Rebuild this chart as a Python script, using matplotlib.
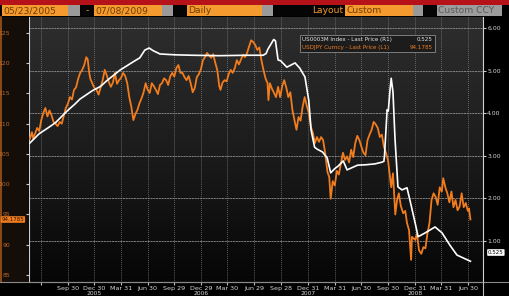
import matplotlib
matplotlib.use("Agg")
import matplotlib.pyplot as plt
from matplotlib.patches import Rectangle
from matplotlib.lines import Line2D
from matplotlib.colors import LinearSegmentedColormap
from matplotlib.transforms import blended_transform_factory
import numpy as np
import pandas as pd

# --- data ---
# USDJPY Curncy, left axis (orange)
jpy_dates = [
    "2005-05-23", "2005-05-30", "2005-06-03", "2005-06-10", "2005-06-17", "2005-06-24",
    "2005-07-01", "2005-07-08", "2005-07-15", "2005-07-22", "2005-07-29", "2005-08-05",
    "2005-08-12", "2005-08-19", "2005-08-26", "2005-09-02", "2005-09-09", "2005-09-16",
    "2005-09-23", "2005-09-30", "2005-10-07", "2005-10-14", "2005-10-21", "2005-10-28",
    "2005-11-04", "2005-11-11", "2005-11-18", "2005-11-25", "2005-12-02", "2005-12-07",
    "2005-12-12", "2005-12-16", "2005-12-23", "2005-12-30", "2006-01-06", "2006-01-13",
    "2006-01-20", "2006-01-27", "2006-02-03", "2006-02-10", "2006-02-17", "2006-02-24",
    "2006-03-03", "2006-03-10", "2006-03-17", "2006-03-24", "2006-03-31", "2006-04-07",
    "2006-04-14", "2006-04-21", "2006-04-28", "2006-05-05", "2006-05-12", "2006-05-19",
    "2006-05-26", "2006-06-02", "2006-06-09", "2006-06-16", "2006-06-23", "2006-06-30",
    "2006-07-07", "2006-07-14", "2006-07-21", "2006-07-28", "2006-08-04", "2006-08-11",
    "2006-08-18", "2006-08-25", "2006-09-01", "2006-09-08", "2006-09-15", "2006-09-22",
    "2006-09-29", "2006-10-06", "2006-10-13", "2006-10-20", "2006-10-27", "2006-11-03",
    "2006-11-10", "2006-11-17", "2006-11-24", "2006-12-01", "2006-12-08", "2006-12-15",
    "2006-12-22", "2006-12-29", "2007-01-05", "2007-01-12", "2007-01-19", "2007-01-26",
    "2007-02-02", "2007-02-09", "2007-02-16", "2007-02-23", "2007-03-02", "2007-03-06",
    "2007-03-13", "2007-03-20", "2007-03-27", "2007-04-03", "2007-04-10", "2007-04-17",
    "2007-04-24", "2007-05-01", "2007-05-08", "2007-05-15", "2007-05-22", "2007-05-29",
    "2007-06-05", "2007-06-12", "2007-06-19", "2007-06-26", "2007-07-03", "2007-07-10",
    "2007-07-17", "2007-07-24", "2007-07-31", "2007-08-07", "2007-08-14", "2007-08-17",
    "2007-08-22", "2007-08-29", "2007-09-05", "2007-09-12", "2007-09-19", "2007-09-26",
    "2007-10-03", "2007-10-10", "2007-10-17", "2007-10-24", "2007-10-31", "2007-11-07",
    "2007-11-14", "2007-11-21", "2007-11-28", "2007-12-05", "2007-12-12", "2007-12-19",
    "2007-12-26", "2008-01-02", "2008-01-09", "2008-01-16", "2008-01-23", "2008-01-30",
    "2008-02-06", "2008-02-13", "2008-02-20", "2008-02-27", "2008-03-06", "2008-03-12",
    "2008-03-17", "2008-03-24", "2008-03-31", "2008-04-07", "2008-04-14", "2008-04-21",
    "2008-04-28", "2008-05-05", "2008-05-12", "2008-05-19", "2008-05-26", "2008-06-02",
    "2008-06-09", "2008-06-16", "2008-06-23", "2008-06-30", "2008-07-07", "2008-07-14",
    "2008-07-21", "2008-07-28", "2008-08-04", "2008-08-11", "2008-08-18", "2008-08-25",
    "2008-09-01", "2008-09-08", "2008-09-15", "2008-09-22", "2008-09-29", "2008-10-06",
    "2008-10-10", "2008-10-16", "2008-10-24", "2008-10-30", "2008-11-05", "2008-11-12",
    "2008-11-20", "2008-11-27", "2008-12-03", "2008-12-10", "2008-12-17", "2008-12-20",
    "2008-12-31", "2009-01-06", "2009-01-13", "2009-01-21", "2009-01-28", "2009-02-04",
    "2009-02-11", "2009-02-18", "2009-02-25", "2009-03-04", "2009-03-11", "2009-03-18",
    "2009-03-25", "2009-04-01", "2009-04-06", "2009-04-13", "2009-04-20", "2009-04-27",
    "2009-05-04", "2009-05-11", "2009-05-18", "2009-05-25", "2009-06-01", "2009-06-08",
    "2009-06-15", "2009-06-22", "2009-06-29", "2009-07-03", "2009-07-08",
]
jpy_vals = [
    107.5, 108.6, 107.6, 108.4, 109.3, 108.8,
    110.6, 111.8, 112.6, 111.2, 112.2, 111.4,
    110.3, 110.0, 109.6, 110.3, 110.0, 111.3,
    112.6, 113.3, 114.4, 114.0, 115.6, 116.0,
    117.4, 118.4, 118.9, 119.7, 121.0, 120.6,
    118.4, 117.4, 116.6, 115.9, 115.6, 114.8,
    116.0, 117.2, 118.9, 118.0, 116.9, 116.1,
    116.8, 118.4, 116.6, 117.2, 117.6, 118.4,
    117.9, 116.7, 114.4, 112.8, 110.6, 111.6,
    112.3, 113.4, 114.2, 115.2, 116.7, 115.6,
    115.1, 116.7, 116.2, 115.6, 114.9, 116.4,
    116.7, 117.5, 117.2, 116.4, 117.8, 118.4,
    117.8, 119.2, 119.7, 118.4, 118.4, 117.7,
    117.2, 117.9, 116.7, 115.2, 115.9, 117.7,
    118.2, 119.0, 120.5, 121.0, 121.7, 121.3,
    120.9, 121.5, 120.1, 118.9, 116.2, 115.6,
    116.8, 117.2, 117.0, 118.2, 118.9, 118.4,
    119.2, 120.5, 119.8, 120.6, 121.4, 121.0,
    121.7, 122.8, 123.8, 123.5, 123.0, 122.2,
    122.6, 120.5, 118.9, 117.5, 116.7, 113.9,
    116.7, 115.8, 115.1, 114.4, 116.1, 114.4,
    116.2, 117.2, 116.0, 114.4, 115.2, 112.3,
    110.6, 109.0, 111.1, 110.5, 112.8, 114.4,
    113.0, 111.8, 109.5, 108.5, 106.8, 107.8,
    107.0, 107.8, 107.3, 105.2, 102.0, 101.2,
    97.6, 100.5, 99.8, 102.2, 101.6, 103.5,
    105.2, 104.0, 104.6, 103.6, 105.7, 104.5,
    106.8, 108.0, 107.3, 106.2, 105.2, 104.8,
    107.3, 108.2, 109.0, 110.3, 109.9, 109.3,
    107.8, 108.2, 106.2, 105.2, 104.0, 101.2,
    99.5, 101.8, 95.0, 97.4, 98.5, 96.4,
    95.2, 95.6, 93.6, 92.4, 87.5, 91.3,
    90.8, 91.8, 89.1, 88.5, 89.6, 89.4,
    91.9, 93.6, 97.4, 98.5, 97.9, 96.6,
    99.5, 98.8, 101.0, 99.5, 98.5, 97.0,
    98.8, 96.2, 97.4, 95.7, 96.3, 98.5,
    96.2, 96.9, 95.6, 96.0, 94.1785,
]

# US0003M Index, right axis (white)
libor_dates = [
    "2005-05-23", "2005-06-24", "2005-07-25", "2005-08-19", "2005-09-27", "2005-10-25",
    "2005-11-10", "2005-12-23", "2006-01-20", "2006-02-08", "2006-03-07", "2006-03-27",
    "2006-05-10", "2006-06-03", "2006-06-20", "2006-07-05", "2006-07-18", "2006-08-11",
    "2006-10-02", "2006-12-01", "2007-03-01", "2007-06-01", "2007-07-30", "2007-08-09",
    "2007-08-15", "2007-08-22", "2007-09-04", "2007-09-10", "2007-09-19", "2007-09-28",
    "2007-10-19", "2007-11-16", "2007-12-02", "2007-12-20", "2008-01-02", "2008-01-10",
    "2008-01-22", "2008-02-01", "2008-02-18", "2008-03-05", "2008-03-17", "2008-03-31",
    "2008-04-10", "2008-04-29", "2008-05-12", "2008-06-17", "2008-07-15", "2008-08-15",
    "2008-09-08", "2008-09-15", "2008-09-17", "2008-09-26", "2008-09-30", "2008-10-06",
    "2008-10-10", "2008-10-16", "2008-10-23", "2008-11-02", "2008-11-16", "2008-12-03",
    "2008-12-13", "2008-12-31", "2009-01-10", "2009-02-03", "2009-03-09", "2009-04-02",
    "2009-04-29", "2009-05-23", "2009-06-30", "2009-07-08",
]
libor_vals = [
    3.30, 3.52, 3.66, 3.78, 4.05, 4.22,
    4.33, 4.53, 4.63, 4.75, 4.90, 5.01,
    5.20, 5.30, 5.48, 5.53, 5.47, 5.39,
    5.37, 5.36, 5.35, 5.36, 5.36, 5.40,
    5.50, 5.58, 5.73, 5.70, 5.25, 5.23,
    5.08, 5.18, 5.06, 4.85, 4.30, 3.60,
    3.20, 3.15, 3.09, 2.95, 2.60, 2.70,
    2.75, 2.88, 2.67, 2.78, 2.79, 2.81,
    2.85, 2.87, 3.00, 4.08, 4.05, 4.55,
    4.82, 4.50, 3.40, 2.27, 2.20, 2.25,
    1.96, 1.42, 1.10, 1.19, 1.33, 1.19,
    0.90, 0.67, 0.55, 0.525,
]

tick_dates = [
    "2005-06-30", "2005-09-30", "2005-12-30", "2006-03-31", "2006-06-30", "2006-09-29",
    "2006-12-29", "2007-03-30", "2007-06-29", "2007-09-28", "2007-12-31", "2008-03-31",
    "2008-06-30", "2008-09-30", "2008-12-31", "2009-03-31", "2009-06-30",
]
tick_labels = [
    "", "Sep 30", "Dec 30", "Mar 31", "Jun 30", "Sep 29",
    "Dec 29", "Mar 30", "Jun 29", "Sep 28", "Dec 31", "Mar 31",
    "Jun 30", "Sep 30", "Dec 31", "Mar 31", "Jun 30",
]
year_dates = ["2005-12-30", "2006-12-29", "2007-12-31", "2008-12-31"]
year_labels = ["2005", "2006", "2007", "2008"]

left_ticks = [85, 90, 95, 100, 105, 110, 115, 120, 125]
right_ticks = [1, 2, 3, 4, 5, 6]

ORANGE = "#f07c1e"
AMBER = "#f59a2e"

# --- figure, pixel helpers ---
W, H = 510, 296
fig = plt.figure(figsize=(W / 100, H / 100), dpi=100, facecolor="black")


def fx(x):
    return x / W


def fy(y):
    return 1 - y / H


def frect(x0, y0, x1, y1, color, z=1, **kw):
    fig.add_artist(Rectangle((fx(x0), fy(y1)), fx(x1) - fx(x0), fy(y0) - fy(y1),
                             transform=fig.transFigure, facecolor=color, zorder=z,
                             edgecolor=kw.pop("edgecolor", "none"), **kw))


def fline(xs, ys, color, lw=0.8, z=1):
    fig.add_artist(Line2D([fx(v) for v in xs], [fy(v) for v in ys],
                          transform=fig.transFigure, color=color, lw=lw, zorder=z))


# left axis strip (behind the axes so tick labels stay visible) and header
frect(0, 17, 28, 282, "#140d08", z=-2)
fline([0.6, 0.6], [17, 282], "#a0561c", lw=1.2, z=-1)
frect(0, 0, 510, 5, "#b5121a")

header = [
    (2, 68, AMBER, "05/23/2005", "#6e3d00", "left"),
    (68, 80, "#9a9a9a", "", "", "left"),
    (80, 94, "#050505", "-", AMBER, "center"),
    (94, 162, AMBER, "07/08/2009", "#6e3d00", "left"),
    (162, 173, "#9a9a9a", "", "", "left"),
    (173, 187, "#050505", "", "", "left"),
    (187, 262, AMBER, "Daily", "#6e3d00", "left"),
    (262, 273, "#9a9a9a", "", "", "left"),
    (273, 345, "#050505", "Layout", AMBER, "right"),
    (345, 413, AMBER, "Custom", "#6e3d00", "left"),
    (413, 423, "#9a9a9a", "", "", "left"),
    (423, 437, "#050505", "", "", "left"),
    (437, 502, "#9c9c9c", "Custom CCY", "#5a5a5a", "left"),
]
for x0, x1, fc, txt, tc, ha in header:
    frect(x0, 5, x1, 16, fc)
    if txt:
        tx = {"left": x0 + 1.5, "center": (x0 + x1) / 2, "right": x1 - 2}[ha]
        fig.text(fx(tx), fy(10.8), txt, color=tc, fontsize=6.6, ha=ha, va="center",
                 family="DejaVu Sans")

# plot area with dark vertical gradient
rect = [fx(29), fy(282), fx(483) - fx(29), fy(17) - fy(282)]
bg = fig.add_axes(rect)
grad = LinearSegmentedColormap.from_list("bbg", ["#2e2e2e", "#1c1c1c", "#060606"])
bg.imshow(np.linspace(0, 1, 256)[:, None], aspect="auto", cmap=grad, extent=[0, 1, 0, 1])
bg.axis("off")

ax = fig.add_axes(rect)
ax.set_facecolor("none")
ax2 = ax.twinx()

ax.plot(pd.to_datetime(jpy_dates), jpy_vals, color=ORANGE, lw=1.3, zorder=3)
ax2.plot(pd.to_datetime(libor_dates), libor_vals, color="white", lw=1.2, zorder=3)

ax.set_xlim(pd.Timestamp("2005-05-20"), pd.Timestamp("2009-08-20"))
ax.set_ylim(83.84, 127.64)
ax2.set_ylim(0.038, 6.258)

# grid: dotted verticals at quarter ticks, horizontals at right-axis levels
ax.set_xticks(pd.to_datetime(tick_dates))
ax.set_xticklabels(tick_labels)
ax.grid(axis="x", color="#8c8c8c", lw=0.55, ls=(0, (1, 1.6)), zorder=1)
hl = blended_transform_factory(ax.transAxes, ax2.transData)
for r in right_ticks:
    ax.plot([0, 1], [r, r], transform=hl, color="#8e8e8e", lw=0.6,
            ls=(0, (2.5, 0.8)), zorder=1)

ax.tick_params(axis="x", length=2, pad=1.2, color="#bbbbbb", labelsize=4.6,
               labelcolor="#d6d6d6")
ax.set_yticks(left_ticks)
ax.tick_params(axis="y", length=2, pad=11.5, color="#cccccc", labelsize=4.4,
               labelcolor="#b8692b")
ax2.set_yticks(right_ticks)
ax2.set_yticklabels([f"{v:.2f}" for v in right_ticks])
ax2.tick_params(axis="y", length=2, pad=1.0, color="#cccccc", labelsize=4.4,
                labelcolor="#d6d6d6")

for s in ["top", "right"]:
    ax.spines[s].set_visible(False)
for s in ["top", "left", "bottom"]:
    ax2.spines[s].set_visible(False)
ax.spines["left"].set_color("#d0d0d0")
ax.spines["bottom"].set_color("#9a9a9a")
ax2.spines["right"].set_color("#d0d0d0")
for s in [ax.spines["left"], ax.spines["bottom"], ax2.spines["right"]]:
    s.set_linewidth(0.8)

# axis lines running past the plot
fline([0, 510], [282.3, 282.3], "#8a8a8a", lw=0.8)
fline([483.3, 483.3], [282, 296], "#bdbdbd", lw=0.8)

# year labels, sitting at the very bottom edge
yr = blended_transform_factory(ax.transData, ax.transAxes)
for d, lab in zip(pd.to_datetime(year_dates), year_labels):
    ax.text(d, -8.8 / 265, lab, transform=yr, ha="center", va="top", fontsize=4.3,
            color="#d6d6d6", clip_on=False)

# last-value tags
fig.text(fx(1.5), fy(219.5), f"{jpy_vals[-1]:.4f}", fontsize=4.0, color="#2a1400",
         ha="left", va="center",
         bbox=dict(boxstyle="round,pad=0.15", fc=ORANGE, ec="none"))
fig.text(fx(488), fy(252.5), f"{libor_vals[-1]:.3f}", fontsize=4.0, color="black",
         ha="left", va="center",
         bbox=dict(boxstyle="round,pad=0.15", fc="white", ec="none"))

# legend box
frect(300, 35, 435, 52, "#1c1c1c", edgecolor="#8a8a8a", lw=0.6)
fig.text(fx(302), fy(39.8), "US0003M Index - Last Price (R1)", fontsize=4.1,
         color="#e8e8e8", va="center")
fig.text(fx(433), fy(39.8), f"{libor_vals[-1]:.3f}", fontsize=4.1, color="#e8e8e8",
         va="center", ha="right")
fig.text(fx(302), fy(47.3), "USDJPY Curncy - Last Price (L1)", fontsize=4.1,
         color=ORANGE, va="center")
fig.text(fx(433), fy(47.3), f"{jpy_vals[-1]:.4f}", fontsize=4.1, color=ORANGE,
         va="center", ha="right")

fig.savefig("out.png", dpi=100, facecolor="black")
